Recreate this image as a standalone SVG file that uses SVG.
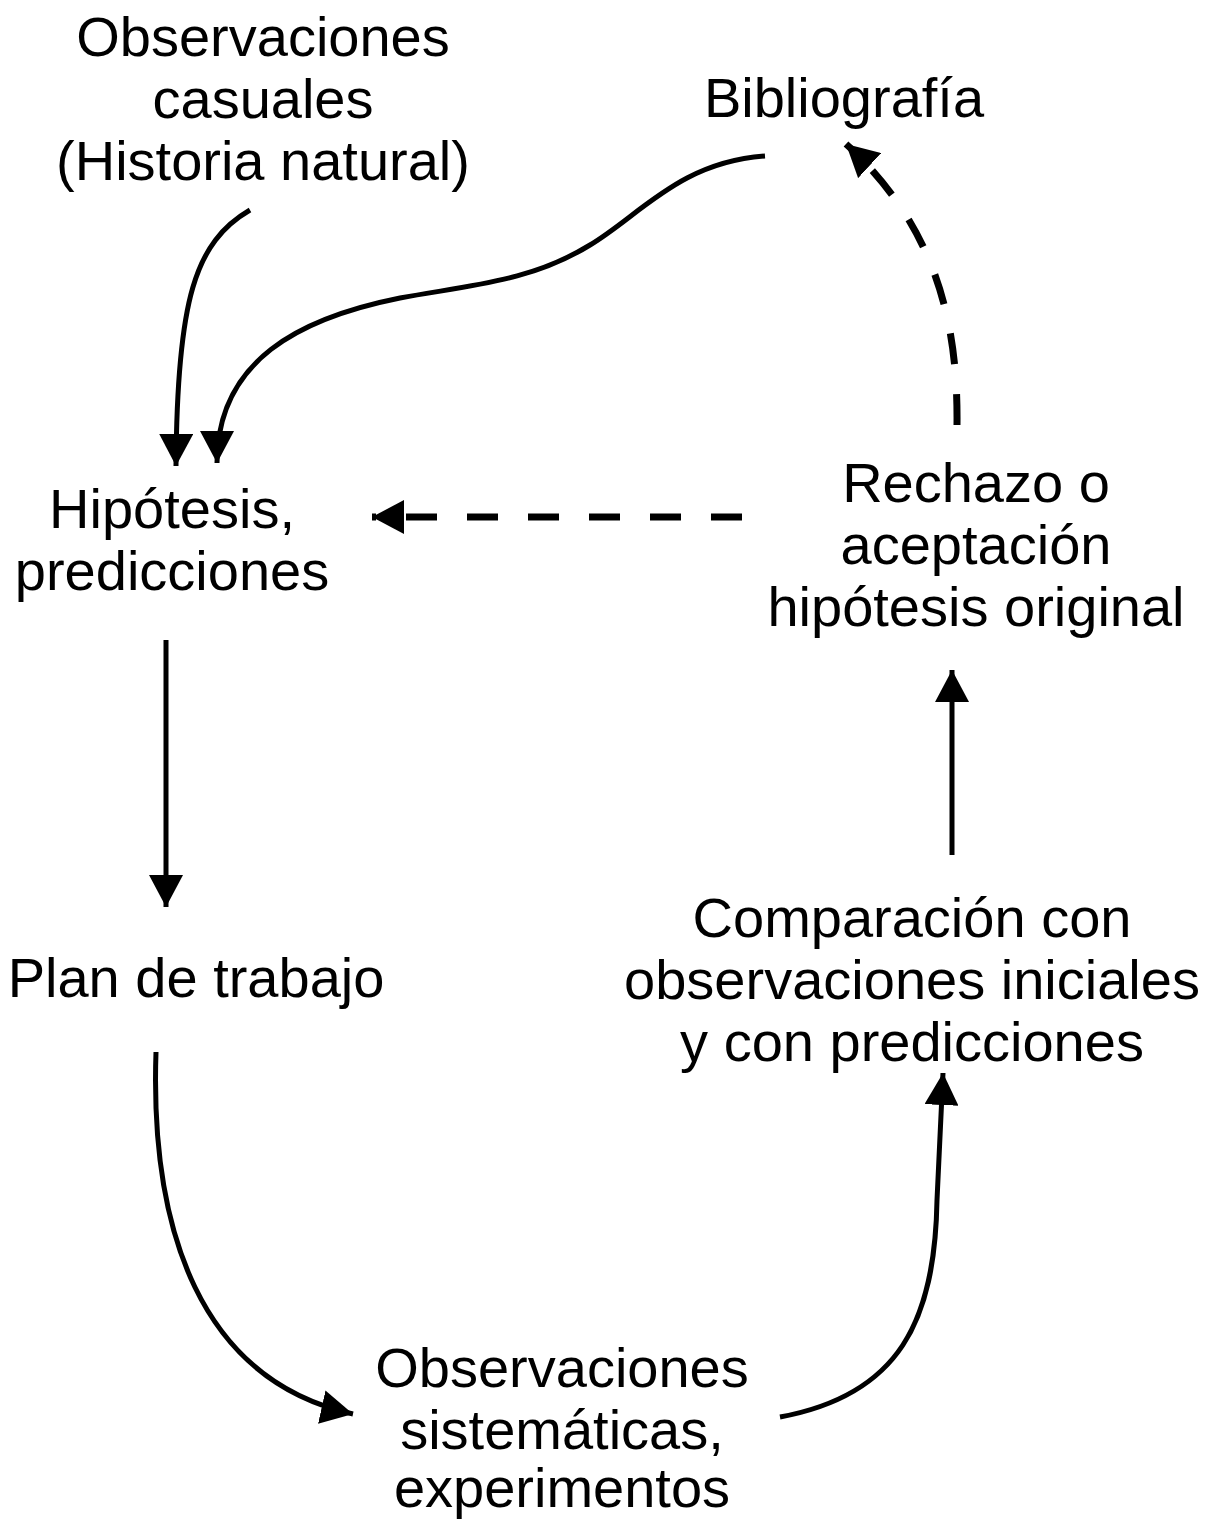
<svg xmlns="http://www.w3.org/2000/svg" width="1212" height="1519" viewBox="0 0 1212 1519">
<style>
text{font-family:"Liberation Sans",Arial,sans-serif;font-size:56px;fill:#000;text-anchor:middle}
.c{fill:none;stroke:#000;stroke-width:5}
.d{fill:none;stroke:#000;stroke-width:7;stroke-dasharray:31 30}
</style>
<defs>
<marker id="ah" viewBox="0 0 32 34" refX="32" refY="17" markerWidth="32" markerHeight="34" markerUnits="userSpaceOnUse" orient="auto">
<path d="M0,0 L32,17 L0,34 Z" fill="#000"/>
</marker>
</defs>
<rect width="1212" height="1519" fill="#fff"/>
<g id="n-obs-casuales"><text x="263" y="56">Observaciones</text><text x="263" y="118">casuales</text><text x="263" y="180">(Historia natural)</text></g>
<g id="n-bibliografia"><text x="844" y="117">Bibliografía</text></g>
<g id="n-hipotesis"><text x="172" y="528">Hipótesis,</text><text x="172" y="590">predicciones</text></g>
<g id="n-rechazo"><text x="976" y="502">Rechazo o</text><text x="976" y="564">aceptación</text><text x="976" y="626">hipótesis original</text></g>
<g id="n-plan"><text x="196" y="997">Plan de trabajo</text></g>
<g id="n-comparacion"><text x="912" y="937">Comparación con</text><text x="912" y="999">observaciones iniciales</text><text x="912" y="1061">y con predicciones</text></g>
<g id="n-obs-sistematicas"><text x="562" y="1387">Observaciones</text><text x="562" y="1449">sistemáticas,</text><text x="562" y="1507">experimentos</text></g>
<g id="connectors">
<path class="c" d="M250,210 C195,242 177,300 176,466" marker-end="url(#ah)"/>
<path class="c" d="M765,156 C680,162 640,215 590,245 C530,282 470,285 400,298 C300,318 217,360 217,463" marker-end="url(#ah)"/>
<path class="c" d="M166,640 L166,907" marker-end="url(#ah)"/>
<path class="c" d="M156,1052 C150,1230 200,1380 353,1414" marker-end="url(#ah)"/>
<path class="c" d="M780,1417 C900,1395 935,1320 937,1200 L943,1073" marker-end="url(#ah)"/>
<path class="c" d="M952,855 L952,670" marker-end="url(#ah)"/>
<path class="d" d="M742,517 L372,517" marker-end="url(#ah)"/>
<path class="d" d="M957,425 C958,330 940,230 846,144" marker-end="url(#ah)"/>
</g>
</svg>
